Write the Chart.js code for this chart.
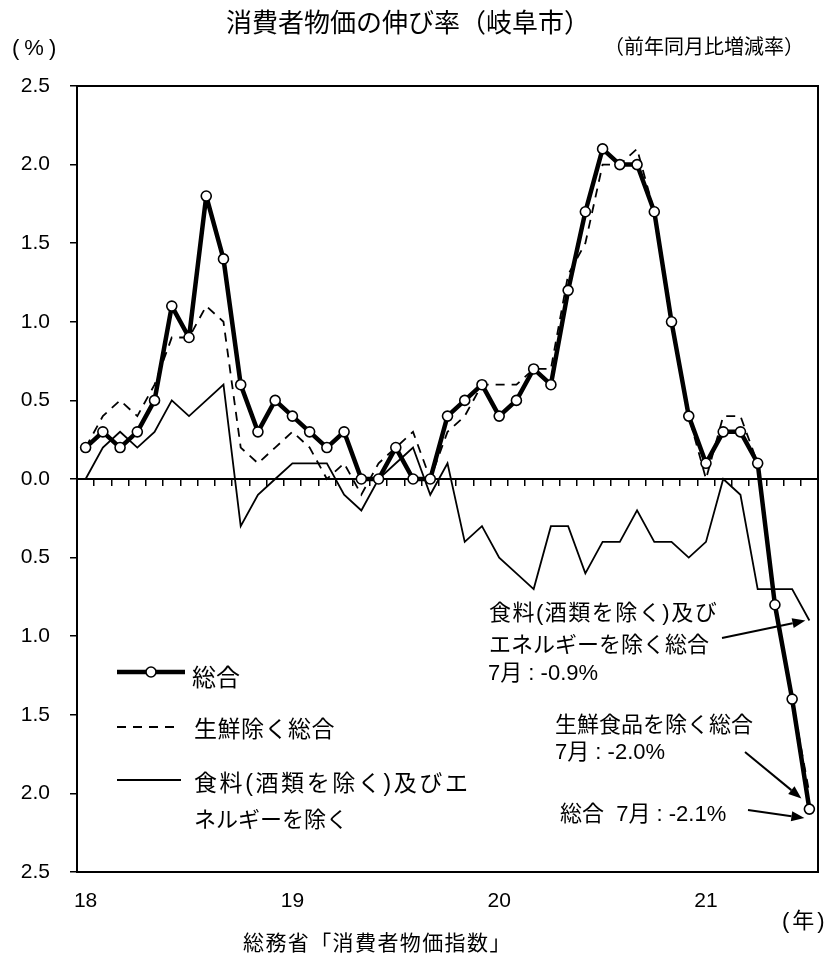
<!DOCTYPE html>
<html lang="ja">
<head>
<meta charset="utf-8">
<title>消費者物価の伸び率（岐阜市）</title>
<script src="https://cdn.jsdelivr.net/npm/chart.js@4.4.1/dist/chart.umd.min.js"></script>
<style>
html,body{margin:0;padding:0;background:#fff;}
#wrap{position:relative;width:830px;height:956px;font-family:"Liberation Sans","Noto Sans CJK JP",sans-serif;color:#000;overflow:hidden;}
#wrap canvas{position:absolute;left:0;top:0;}
.t{position:absolute;white-space:pre;line-height:1;}
</style>
</head>
<body>
<div id="wrap">
  <canvas id="c" width="830" height="956"></canvas>
  <div class="t" style="left:208px;width:400px;text-align:center;top:10px;font-size:26px;">消費者物価の伸び率（岐阜市）</div>
  <div class="t" style="left:12px;top:37px;font-size:22px;letter-spacing:5px;">(%)</div>
  <div class="t" style="left:604px;top:37px;font-size:20px;">（前年同月比増減率）</div>

  <div class="t" style="left:192px;top:666px;font-size:24px;">総合</div>
  <div class="t" style="left:194px;top:718px;font-size:23px;letter-spacing:0.5px;">生鮮除く総合</div>
  <div class="t" style="left:194px;top:772px;font-size:23px;letter-spacing:2.6px;">食料(酒類を除く)及びエ</div>
  <div class="t" style="left:194px;top:809px;font-size:22px;">ネルギーを除く</div>

  <div class="t" style="left:489px;top:602px;font-size:22px;letter-spacing:1.5px;">食料(酒類を除く)及び</div>
  <div class="t" style="left:489px;top:634px;font-size:22px;">エネルギーを除く総合</div>
  <div class="t" style="left:488px;top:662px;font-size:22px;">7月 : -0.9%</div>
  <div class="t" style="left:555px;top:714px;font-size:22px;">生鮮食品を除く総合</div>
  <div class="t" style="left:555px;top:741px;font-size:22px;">7月 : -2.0%</div>
  <div class="t" style="left:560px;top:803px;font-size:22px;">総合  7月 : -2.1%</div>

  <div class="t" style="left:243px;top:932px;font-size:21px;letter-spacing:1.4px;">総務省「消費者物価指数」</div>
  <div class="t" style="left:782px;top:910px;font-size:22px;letter-spacing:3px;">(年)</div>
</div>
<script>
// Monthly categories, Jan 2018 - Jul 2021
const categories = [
  '2018/1','2018/2','2018/3','2018/4','2018/5','2018/6','2018/7','2018/8','2018/9','2018/10','2018/11','2018/12',
  '2019/1','2019/2','2019/3','2019/4','2019/5','2019/6','2019/7','2019/8','2019/9','2019/10','2019/11','2019/12',
  '2020/1','2020/2','2020/3','2020/4','2020/5','2020/6','2020/7','2020/8','2020/9','2020/10','2020/11','2020/12',
  '2021/1','2021/2','2021/3','2021/4','2021/5','2021/6','2021/7'
];

// Year tick labels, shown under each January
const yearTickLabels = { '2018/1': '18', '2019/1': '19', '2020/1': '20', '2021/1': '21' };

// 総合 (year-on-year change, %)
const overall = [
  0.2, 0.3, 0.2, 0.3, 0.5, 1.1, 0.9, 1.8, 1.4, 0.6, 0.3, 0.5,
  0.4, 0.3, 0.2, 0.3, 0.0, 0.0, 0.2, 0.0, 0.0, 0.4, 0.5, 0.6,
  0.4, 0.5, 0.7, 0.6, 1.2, 1.7, 2.1, 2.0, 2.0, 1.7, 1.0, 0.4,
  0.1, 0.3, 0.3, 0.1, -0.8, -1.4, -2.1
];

// 生鮮食品を除く総合
const excludingFresh = [
  0.2, 0.4, 0.5, 0.4, 0.6, 0.9, 0.9, 1.1, 1.0, 0.2, 0.1, 0.2,
  0.3, 0.2, 0.0, 0.1, -0.1, 0.1, 0.2, 0.3, 0.0, 0.3, 0.4, 0.6,
  0.6, 0.6, 0.7, 0.7, 1.3, 1.5, 2.0, 2.0, 2.1, 1.7, 1.0, 0.4,
  0.0, 0.4, 0.4, 0.1, -0.8, -1.4, -2.0
];

// 食料（酒類を除く）及びエネルギーを除く総合
const excludingFoodEnergy = [
  0.0, 0.2, 0.3, 0.2, 0.3, 0.5, 0.4, 0.5, 0.6, -0.3, -0.1, 0.0,
  0.1, 0.1, 0.1, -0.1, -0.2, 0.0, 0.1, 0.2, -0.1, 0.1, -0.4, -0.3,
  -0.5, -0.6, -0.7, -0.3, -0.3, -0.6, -0.4, -0.4, -0.2, -0.4, -0.4, -0.5,
  -0.4, 0.0, -0.1, -0.7, -0.7, -0.7, -0.9
];

// Value axis range
const yMin = -2.5;
const yMax = 2.5;
const yStep = 0.5;

const tickFamily = '"Liberation Sans", Arial, sans-serif';

// Box around the plotting area
const framePlugin = {
  id: 'frame',
  afterDatasetsDraw(chart) {
    const { ctx, chartArea: a } = chart;
    ctx.save();
    ctx.strokeStyle = '#000';
    ctx.lineWidth = 2;
    ctx.strokeRect(a.left, a.top, a.right - a.left, a.bottom - a.top);
    ctx.restore();
  }
};

// Legend line samples drawn in each dataset's own style
const legendSamplePlugin = {
  id: 'legendSamples',
  afterDraw(chart, args, opts) {
    const ctx = chart.ctx;
    ctx.save();
    opts.items.forEach(item => {
      const ds = chart.data.datasets[item.dataset];
      ctx.strokeStyle = ds.borderColor;
      ctx.lineWidth = ds.borderWidth;
      ctx.setLineDash(ds.borderDash || []);
      ctx.beginPath();
      ctx.moveTo(item.x1, item.y);
      ctx.lineTo(item.x2, item.y);
      ctx.stroke();
      ctx.setLineDash([]);
      if (ds.pointRadius > 0) {
        ctx.beginPath();
        ctx.arc((item.x1 + item.x2) / 2, item.y, ds.pointRadius, 0, Math.PI * 2);
        ctx.fillStyle = ds.pointBackgroundColor;
        ctx.fill();
        ctx.lineWidth = ds.pointBorderWidth;
        ctx.strokeStyle = ds.pointBorderColor;
        ctx.stroke();
      }
    });
    ctx.restore();
  }
};

// Callout arrows pointing at the latest value of each series
const calloutPlugin = {
  id: 'callouts',
  afterDraw(chart, args, opts) {
    const ctx = chart.ctx;
    ctx.save();
    ctx.strokeStyle = '#000';
    ctx.fillStyle = '#000';
    ctx.lineWidth = 2;
    opts.arrows.forEach(a => {
      const meta = chart.getDatasetMeta(a.dataset);
      const pt = meta.data[meta.data.length - 1];
      const tx = pt.x + a.dx, ty = pt.y + a.dy;
      const ang = Math.atan2(ty - a.fromY, tx - a.fromX);
      const len = 13, half = 5;
      const bx = tx - len * Math.cos(ang), by = ty - len * Math.sin(ang);
      ctx.beginPath();
      ctx.moveTo(a.fromX, a.fromY);
      ctx.lineTo(bx, by);
      ctx.stroke();
      ctx.beginPath();
      ctx.moveTo(tx, ty);
      ctx.lineTo(bx + half * Math.sin(ang), by - half * Math.cos(ang));
      ctx.lineTo(bx - half * Math.sin(ang), by + half * Math.cos(ang));
      ctx.closePath();
      ctx.fill();
    });
    ctx.restore();
  }
};

new Chart(document.getElementById('c'), {
  type: 'line',
  data: {
    labels: categories,
    datasets: [
      {
        label: '総合',
        data: overall,
        borderColor: '#000',
        borderWidth: 4.5,
        borderJoinStyle: 'round',
        pointRadius: 5,
        pointBackgroundColor: '#fff',
        pointBorderColor: '#000',
        pointBorderWidth: 1.6,
        tension: 0
      },
      {
        label: '生鮮食品を除く総合',
        data: excludingFresh,
        borderColor: '#000',
        borderWidth: 1.8,
        borderDash: [9, 7],
        pointRadius: 0,
        tension: 0
      },
      {
        label: '食料（酒類を除く）及びエネルギーを除く総合',
        data: excludingFoodEnergy,
        borderColor: '#000',
        borderWidth: 1.8,
        pointRadius: 0,
        tension: 0
      }
    ]
  },
  options: {
    responsive: false,
    devicePixelRatio: 1,
    animation: false,
    events: [],
    layout: { padding: { left: 0, top: 86, right: 12, bottom: 0 } },
    plugins: {
      legend: { display: false },
      tooltip: { enabled: false },
      legendSamples: {
        items: [
          { dataset: 0, x1: 117, x2: 185, y: 672 },
          { dataset: 1, x1: 117, x2: 180, y: 727 },
          { dataset: 2, x1: 117, x2: 181, y: 780 }
        ]
      },
      callouts: {
        arrows: [
          { dataset: 2, fromX: 722, fromY: 638, dx: -4, dy: 0 },
          { dataset: 1, fromX: 745, fromY: 752, dx: -8, dy: 5 },
          { dataset: 0, fromX: 748, fromY: 810, dx: -5, dy: 9 }
        ]
      }
    },
    scales: {
      x: {
        type: 'category',
        axis: 'x',
        position: 'bottom',
        offset: true,
        grid: { display: false, drawTicks: false },
        border: { display: false },
        ticks: {
          autoSkip: false,
          maxRotation: 0,
          minRotation: 0,
          padding: 17,
          color: '#000',
          font: { family: tickFamily, size: 21 },
          callback: (v, i) => yearTickLabels[categories[i]] || ''
        },
        afterFit: s => { s.height = 84; }
      },
      zeroLine: {
        type: 'category',
        axis: 'x',
        labels: categories,
        position: { y: 0 },
        offset: true,
        grid: { drawOnChartArea: false, drawTicks: true, tickLength: 6, offset: true, color: '#000', lineWidth: 1.5 },
        border: { display: true, color: '#000', width: 2 },
        ticks: { display: false }
      },
      y: {
        axis: 'y',
        position: 'left',
        min: yMin,
        max: yMax,
        ticks: {
          stepSize: yStep,
          padding: 20,
          color: '#000',
          font: { family: tickFamily, size: 21 },
          callback: v => Math.abs(v).toFixed(1)
        },
        grid: { drawOnChartArea: false, drawTicks: true, tickLength: 7, color: '#000', lineWidth: 1.5 },
        border: { display: true, color: '#000', width: 2 },
        afterFit: s => { s.width = 77; }
      }
    }
  },
  plugins: [framePlugin, legendSamplePlugin, calloutPlugin]
});
</script>
</body>
</html>
